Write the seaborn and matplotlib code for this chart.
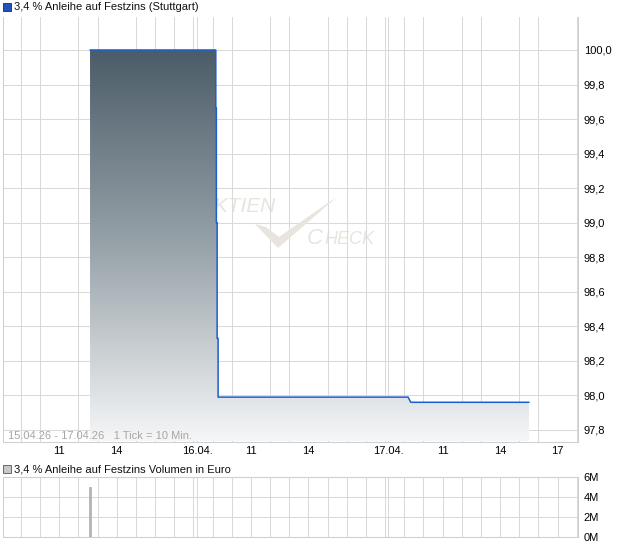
import matplotlib
matplotlib.use('Agg')
import matplotlib.pyplot as plt
import seaborn as sns
import numpy as np
from matplotlib.colors import LinearSegmentedColormap
from matplotlib.patches import Rectangle, Polygon
from matplotlib.ticker import FuncFormatter, FixedLocator

# Trading-hour axis: 0 = 15.04. 08:00, 10 hours per day (08:00-18:00)
price_time = [4.61, 11.17, 11.17, 11.20, 11.20, 11.24, 11.24, 11.29, 11.29, 21.20, 21.34, 27.51]
price_value = [100.0, 100.0, 99.665, 99.665, 99.0, 99.0, 98.33, 98.33, 97.99, 97.99, 97.96, 97.96]

volume_time = [4.61]
volume_value = [5.0e6]

tick_pos = [3, 6, 10.24, 13, 16, 20.16, 23, 26, 29]
tick_labels = ['11', '14', '16.04.', '11', '14', '17.04.', '11', '14', '17']
hour_lines = list(range(1, 31)) + [10.17, 20.17]

price_ticks = [97.8, 98.0, 98.2, 98.4, 98.6, 98.8, 99.0, 99.2, 99.4, 99.6, 99.8, 100.0]
volume_ticks = [0, 2e6, 4e6, 6e6]

title_main = '3,4 % Anleihe auf Festzins (Stuttgart)'
title_vol = '3,4 % Anleihe auf Festzins Volumen in Euro'
range_text = '15.04.26 - 17.04.26   1 Tick = 10 Min.'

sns.set_style('white')
plt.rcParams['font.family'] = ['Liberation Sans', 'DejaVu Sans']

W, H = 620, 546
fig = plt.figure(figsize=(W / 100, H / 100), dpi=100)


def fx(px):
    return px / W


def fy(py):
    return 1 - py / H


grid_col = '#dadada'
wm_col = '#e8e4de'
xmin, xmax = 0.07, 30.08

# ---- main price panel
ax = fig.add_axes([fx(3), fy(441.5), fx(578.3) - fx(3), (441.5 - 17) / H])
ymin, ymax = 97.733, 100.191
ax.set_xlim(xmin, xmax)
ax.set_ylim(ymin, ymax)

# watermark
ax.text(fx(200), fy(206), 'AKTIEN', transform=fig.transFigure, fontsize=15, style='italic',
        color=wm_col, va='center', ha='left', zorder=0.5)
ax.text(fx(307), fy(239), 'C', transform=fig.transFigure, fontsize=16, style='italic',
        color=wm_col, va='center', ha='left', zorder=0.5)
ax.text(fx(324), fy(240), 'HECK', transform=fig.transFigure, fontsize=13, style='italic',
        color=wm_col, va='center', ha='left', zorder=0.5)
check = [(255, 224), (266, 227), (279, 237), (338, 196), (278, 248)]
fig.patches.append(Polygon([(fx(a), fy(b)) for a, b in check], closed=True,
                           transform=fig.transFigure, facecolor=wm_col, edgecolor='none',
                           zorder=0.5))

# gradient fill under the price line
poly = ax.fill_between(price_time, price_value, ymin, color='none', zorder=2)
cmap = LinearSegmentedColormap.from_list('fade', ['#4b5c68', '#97a2a9', '#f5f6f7'])
grad = np.linspace(0, 1, 256).reshape(-1, 1)
im = ax.imshow(grad, cmap=cmap, aspect='auto', extent=[xmin, xmax, ymin, 100.0],
               origin='upper', zorder=2)
im.set_clip_path(poly.get_paths()[0], transform=ax.transData)

sns.lineplot(x=price_time, y=price_value, estimator=None, sort=False, ax=ax,
             color='#1b5fcf', linewidth=1.1, zorder=3)

ax.xaxis.set_minor_locator(FixedLocator(hour_lines))
ax.set_xticks(tick_pos)
ax.set_xticklabels(tick_labels)
ax.set_yticks(price_ticks)
ax.yaxis.set_major_formatter(FuncFormatter(lambda v, p: f'{v:.1f}'.replace('.', ',')))
ax.yaxis.tick_right()
ax.grid(False)
ax.grid(True, which='minor', axis='x', color=grid_col, linewidth=0.75, zorder=1)
ax.grid(True, which='major', axis='y', color=grid_col, linewidth=0.75, zorder=1)
ax.set_axisbelow(True)
ax.tick_params(axis='x', which='major', length=0, pad=3, labelsize=8, colors='black')
ax.tick_params(axis='x', which='minor', length=2, width=0.6, color='#cccccc', direction='out')
ax.tick_params(axis='y', length=0, pad=4, labelsize=8, colors='black')
for s in ['left', 'right', 'bottom']:
    ax.spines[s].set_color('#cfcfcf')
    ax.spines[s].set_linewidth(0.75)
ax.spines['top'].set_visible(False)
ax.set_xlabel('')
ax.set_ylabel('')

ax.text(0.009, 0.014, range_text, transform=ax.transAxes, fontsize=8, color='#a6a6a6',
        va='center', ha='left', zorder=4)

# ---- volume panel
axv = fig.add_axes([fx(3), fy(536.7), fx(578.3) - fx(3), (536.7 - 477.3) / H])
axv.set_xlim(xmin, xmax)
axv.set_ylim(0, 6e6)
axv.bar(volume_time, volume_value, width=0.1, color='#b5b5b5', edgecolor='#b5b5b5',
        linewidth=0.6, zorder=3)
axv.xaxis.set_minor_locator(FixedLocator(hour_lines))
axv.set_xticks([])
axv.set_yticks(volume_ticks)
axv.yaxis.set_major_formatter(FuncFormatter(lambda v, p: f'{int(v / 1e6)}M'))
axv.yaxis.tick_right()
axv.grid(False)
axv.grid(True, which='minor', axis='x', color=grid_col, linewidth=0.75, zorder=1)
axv.grid(True, which='major', axis='y', color=grid_col, linewidth=0.75, zorder=1)
axv.tick_params(axis='x', which='minor', length=0)
axv.tick_params(axis='y', length=0, pad=4, labelsize=8, colors='black')
for s in axv.spines.values():
    s.set_color('#cfcfcf')
    s.set_linewidth(0.75)

# ---- titles with legend squares
fig.patches.append(Rectangle((fx(3), fy(11)), fx(8), 8 / H, transform=fig.transFigure,
                             facecolor='#2052b8', edgecolor='#1a2a55', linewidth=0.6))
fig.text(fx(14), fy(7), title_main, fontsize=8, va='center', ha='left', color='#111111')
fig.patches.append(Rectangle((fx(3), fy(473)), fx(8), 8 / H, transform=fig.transFigure,
                             facecolor='#c8c8c8', edgecolor='#555555', linewidth=0.6))
fig.text(fx(14), fy(469), title_vol, fontsize=8, va='center', ha='left', color='#111111')

fig.savefig('out.png', dpi=100)
plt.close(fig)
